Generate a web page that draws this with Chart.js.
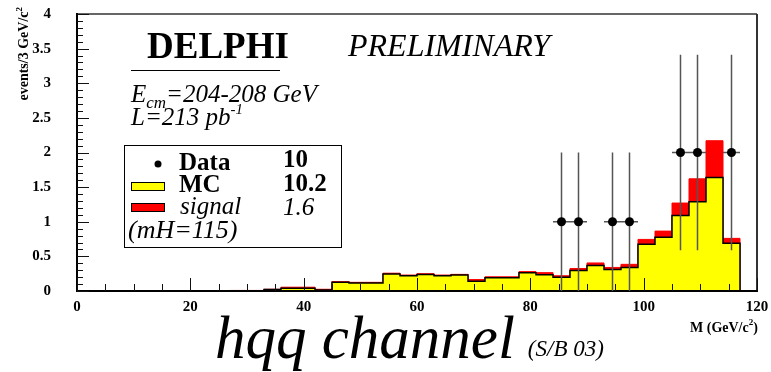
<!DOCTYPE html>
<html>
<head>
<meta charset="utf-8">
<script src="https://cdn.jsdelivr.net/npm/chart.js@4/dist/chart.umd.min.js"></script>
<style>
  html, body { margin: 0; padding: 0; background: #fff; }
  #wrap { width: 771px; height: 372px; }
</style>
</head>
<body>
<div id="wrap"><canvas id="c" width="771" height="372"></canvas></div>
<script>
// Invariant-mass histogram, 3 GeV/c^2 bins (low edges)
const binLow = [0, 3, 6, 9, 12, 15, 18, 21, 24, 27, 30, 33, 36, 39, 42, 45, 48, 51, 54, 57,
                60, 63, 66, 69, 72, 75, 78, 81, 84, 87, 90, 93, 96, 99, 102, 105, 108, 111, 114];
const binWidth = 3;

// Expected background (MC) per bin
const mcEvents = [0, 0, 0, 0, 0, 0, 0, 0, 0, 0.005, 0.005, 0.02, 0.04, 0.04, 0.015, 0.125, 0.115, 0.115, 0.245, 0.22,
                  0.24, 0.22, 0.23, 0.14, 0.19, 0.19, 0.265, 0.235, 0.2, 0.295, 0.37, 0.31, 0.34, 0.675, 0.775, 1.09, 1.29, 1.64, 0.69];

// Expected signal (mH = 115) per bin, stacked on the background
const signalEvents = [0, 0, 0, 0, 0, 0, 0, 0, 0, 0.003, 0.003, 0.005, 0.015, 0.015, 0.01, 0.01, 0.01, 0.01, 0.012, 0.01,
                      0.01, 0.01, 0.01, 0.025, 0.015, 0.015, 0.015, 0.03, 0.02, 0.03, 0.035, 0.03, 0.045, 0.07, 0.09, 0.18, 0.33, 0.53, 0.07];

// Selected data events (bin centres) with statistical errors
const dataMass = [85.5, 88.5, 94.5, 97.5, 106.5, 109.5, 115.5];
const dataEvents = [1, 1, 1, 1, 2, 2, 2];
const dataErr = [1, 1, 1, 1, 1.41, 1.41, 1.41];

const xTickLabels = ['0', '20', '40', '60', '80', '100', '120'];
const yTickLabels = ['0', '0.5', '1', '1.5', '2', '2.5', '3', '3.5', '4'];

const SERIF = '"Liberation Serif", "Times New Roman", Times, serif';

// Step outline points: one point per bin low edge, then close at the last upper edge
function stepPoints(values) {
  const pts = binLow.map((x, i) => ({ x, y: values[i] }));
  const end = binLow[binLow.length - 1] + binWidth;
  pts.push({ x: end, y: values[values.length - 1] });
  pts.push({ x: end, y: 0 });
  return pts;
}
const totalEvents = mcEvents.map((v, i) => v + signalEvents[i]);

function runs(ctx, x, y, parts) {
  for (const p of parts) {
    ctx.font = p.font;
    ctx.fillText(p.t, x, y + (p.dy || 0));
    x += ctx.measureText(p.t).width;
  }
  return x;
}

const histDecor = {
  id: 'histDecor',
  beforeDatasetDraw(chart, args) {
    if (args.index !== 0) return;
    const { ctx, chartArea: a } = chart;
    const xs = chart.scales.x, ys = chart.scales.y;
    ctx.save();
    // frame
    ctx.strokeStyle = '#666';
    ctx.lineWidth = 2;
    ctx.beginPath(); ctx.moveTo(a.left, a.top); ctx.lineTo(a.right, a.top); ctx.stroke();
    ctx.strokeStyle = '#333';
    ctx.beginPath(); ctx.moveTo(a.right, a.top); ctx.lineTo(a.right, a.bottom); ctx.stroke();
    ctx.strokeStyle = '#000';
    ctx.beginPath(); ctx.moveTo(a.left - 1, a.bottom); ctx.lineTo(a.right + 1, a.bottom); ctx.stroke();
    ctx.beginPath(); ctx.moveTo(a.left, a.top - 1); ctx.lineTo(a.left, a.bottom + 1); ctx.stroke();
    // inner ticks
    ctx.lineWidth = 1;
    ctx.strokeStyle = '#111';
    ctx.beginPath();
    for (let k = 0; k <= 24; k++) {
      const v = k * 5;
      const px = Math.round(xs.getPixelForValue(v)) + 0.5;
      const len = (v % 20 === 0) ? 13 : 7;
      ctx.moveTo(px, a.bottom); ctx.lineTo(px, a.bottom - len);
    }
    for (let k = 0; k <= 40; k++) {
      const py = Math.round(ys.getPixelForValue(k / 10)) + 0.5;
      const len = (k % 5 === 0) ? 12 : 6;
      ctx.moveTo(a.left, py); ctx.lineTo(a.left + len, py);
    }
    ctx.stroke();
    // data error bars
    ctx.strokeStyle = '#555';
    ctx.lineWidth = 1.5;
    ctx.beginPath();
    dataMass.forEach((m, i) => {
      const px = xs.getPixelForValue(m);
      const py = ys.getPixelForValue(dataEvents[i]);
      ctx.moveTo(px, ys.getPixelForValue(dataEvents[i] - dataErr[i]));
      ctx.lineTo(px, ys.getPixelForValue(dataEvents[i] + dataErr[i]));
      ctx.moveTo(xs.getPixelForValue(m - binWidth / 2), py);
      ctx.lineTo(xs.getPixelForValue(m + binWidth / 2), py);
    });
    ctx.stroke();
    ctx.restore();
  },
  afterDraw(chart) {
    const ctx = chart.ctx;
    ctx.save();
    ctx.fillStyle = '#000';
    ctx.strokeStyle = '#000';
    ctx.textBaseline = 'alphabetic';
    ctx.textAlign = 'left';

    runs(ctx, 147, 58, [{ t: 'DELPHI', font: 'bold 37px ' + SERIF }]);
    runs(ctx, 348, 56, [{ t: 'PRELIMINARY', font: 'italic 32px ' + SERIF }]);
    ctx.lineWidth = 1;
    ctx.beginPath(); ctx.moveTo(131, 70.5); ctx.lineTo(280, 70.5); ctx.stroke();

    runs(ctx, 131, 102, [
      { t: 'E', font: 'italic 25px ' + SERIF },
      { t: 'cm', font: 'italic 17px ' + SERIF, dy: 6 },
      { t: '=204-208 GeV', font: 'italic 25px ' + SERIF }
    ]);
    runs(ctx, 131, 125, [
      { t: 'L=213 pb', font: 'italic 25px ' + SERIF },
      { t: '-1', font: 'italic 15px ' + SERIF, dy: -11 }
    ]);

    // legend box
    ctx.lineWidth = 1;
    ctx.strokeRect(124.5, 145.5, 217, 102);
    ctx.beginPath(); ctx.arc(158, 164, 3.5, 0, Math.PI * 2); ctx.fill();
    runs(ctx, 179, 170, [{ t: 'Data', font: 'bold 25px ' + SERIF }]);
    runs(ctx, 283, 167, [{ t: '10', font: 'bold 25px ' + SERIF }]);
    ctx.fillStyle = '#ffff00';
    ctx.fillRect(131, 182, 33, 8);
    ctx.strokeRect(131.5, 182.5, 33, 8);
    ctx.fillStyle = '#000';
    runs(ctx, 179, 192, [{ t: 'MC', font: 'bold 25px ' + SERIF }]);
    runs(ctx, 283, 191, [{ t: '10.2', font: 'bold 25px ' + SERIF }]);
    ctx.fillStyle = '#ff0000';
    ctx.fillRect(131, 203, 33, 8);
    ctx.strokeRect(131.5, 203.5, 33, 8);
    ctx.fillStyle = '#000';
    runs(ctx, 180, 214, [{ t: 'signal', font: 'italic 25px ' + SERIF }]);
    runs(ctx, 283, 215, [{ t: '1.6', font: 'italic 25px ' + SERIF }]);
    runs(ctx, 128, 238, [{ t: '(mH=115)', font: 'italic 26px ' + SERIF }]);

    // axis titles
    runs(ctx, 690, 332, [
      { t: 'M (GeV/c', font: 'bold 14px ' + SERIF },
      { t: '2', font: 'bold 9px ' + SERIF, dy: -7 },
      { t: ')', font: 'bold 14px ' + SERIF }
    ]);
    ctx.save();
    ctx.translate(28, 7);
    ctx.rotate(-Math.PI / 2);
    ctx.font = 'bold 14px ' + SERIF;
    const w1 = ctx.measureText('events/3 GeV/c').width;
    ctx.font = 'bold 9px ' + SERIF;
    const w2 = ctx.measureText('2').width;
    runs(ctx, -(w1 + w2), 0, [
      { t: 'events/3 GeV/c', font: 'bold 14px ' + SERIF },
      { t: '2', font: 'bold 9px ' + SERIF, dy: -6 }
    ]);
    ctx.restore();

    // channel title
    const end = runs(ctx, 215, 358, [{ t: 'hqq channel', font: 'italic 61px ' + SERIF }]);
    runs(ctx, end + 13, 356, [{ t: '(S/B 03)', font: 'italic 23px ' + SERIF }]);
    ctx.restore();
  }
};

new Chart(document.getElementById('c'), {
  type: 'line',
  data: {
    datasets: [
      {
        label: 'Data', type: 'scatter',
        data: dataMass.map((x, i) => ({ x, y: dataEvents[i] })),
        pointRadius: 4.5, pointHoverRadius: 4.5,
        pointBackgroundColor: '#000', pointBorderWidth: 0, order: 0
      },
      {
        label: 'MC', data: stepPoints(mcEvents), stepped: true, fill: 'origin',
        backgroundColor: '#ffff00', borderColor: '#000', borderWidth: 1.5,
        pointRadius: 0, order: 1
      },
      {
        label: 'signal', data: stepPoints(totalEvents), stepped: true, fill: 'origin',
        backgroundColor: '#ff0000', borderColor: '#ff0000', borderWidth: 1,
        pointRadius: 0, order: 2
      }
    ]
  },
  options: {
    responsive: false,
    animation: false,
    devicePixelRatio: 1,
    events: [],
    layout: { padding: { left: 0, top: 14, right: 14, bottom: 0 } },
    plugins: { legend: { display: false }, tooltip: { enabled: false } },
    scales: {
      x: {
        type: 'linear', min: 0, max: 120, offset: false,
        grid: { display: false, drawTicks: true, tickLength: 7 }, border: { display: false },
        ticks: {
          stepSize: 20, padding: 0, color: '#000', maxRotation: 0, autoSkip: false,
          font: { family: SERIF, weight: 'bold', size: 15 },
          callback: (v, i) => xTickLabels[i]
        },
        afterFit: s => { s.height = 81; }
      },
      y: {
        type: 'linear', min: 0, max: 4,
        grid: { display: false, drawTicks: true, tickLength: 26 }, border: { display: false },
        ticks: {
          stepSize: 0.5, padding: 0, color: '#000',
          font: { family: SERIF, weight: 'bold', size: 15 },
          callback: (v, i) => yTickLabels[i]
        },
        afterFit: s => { s.width = 77; }
      }
    }
  },
  plugins: [histDecor]
});
</script>
</body>
</html>
